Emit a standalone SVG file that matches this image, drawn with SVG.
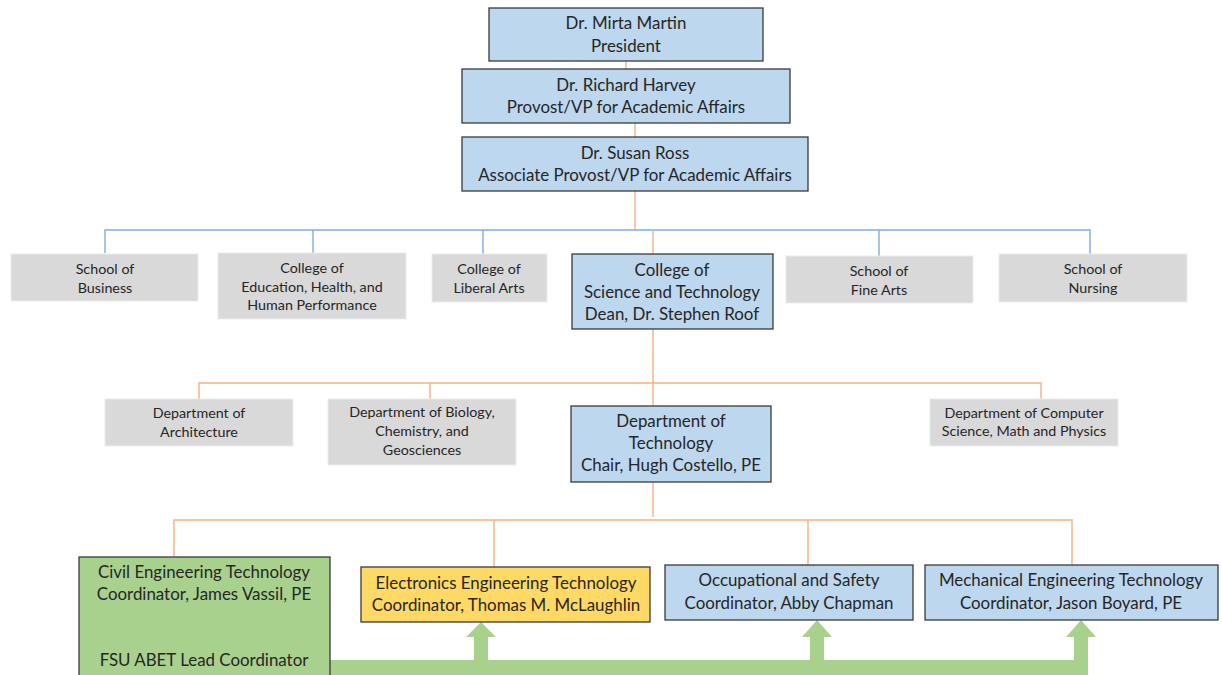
<svg xmlns="http://www.w3.org/2000/svg" width="1222" height="675" viewBox="0 0 1222 675">
<style>
.b{fill:#BDD7EE;stroke:#3a3a3a;stroke-width:1.3}
.g{fill:#D9D9D9;stroke:#ececec;stroke-width:1}
.gr{fill:#A9D18E;stroke:#3a3a3a;stroke-width:1.3}
.y{fill:#FFD966;stroke:#3a3a3a;stroke-width:1.3}
text{font-family:Lato,"Liberation Sans",sans-serif;fill:#262626;text-anchor:middle}
.t16{font-size:16.9px}
.t13{font-size:14.3px}
.o{stroke:#F4B183;stroke-width:1.4;fill:none}
.bl{stroke:#7FAEDC;stroke-width:1.4;fill:none}
</style>
<rect width="1222" height="675" fill="#fff"/>
<g id="connectors">
<path class="o" d="M626 61V69M635 123V137M635 191V231M653 231V254"/>
<path class="bl" d="M105 253V230H1090V254M313 230V253M483 230V254M879 230V256"/>
<path class="o" d="M653 329V517M199 399V383H1041V399M430 383V399"/>
<path class="o" d="M174 557V520H1072V565M494 520V567M808 520V565"/>
<path fill="#A9D18E" d="M330 660H474V637H466L481 622L496 637H488V660H810V637H802L817 620L832 637H824V660H1074V637H1066L1081 620L1096 637H1088V675H330Z"/>
</g>
<g id="president"><rect class="b" x="489" y="8" width="274" height="53"/><text class="t16" x="626" y="29">Dr. Mirta Martin</text><text class="t16" x="626" y="52">President</text></g>
<g id="provost"><rect class="b" x="462" y="69" width="328" height="54"/><text class="t16" x="626" y="91">Dr. Richard Harvey</text><text class="t16" x="626" y="113">Provost/VP for Academic Affairs</text></g>
<g id="assoc"><rect class="b" x="462" y="137" width="346" height="54"/><text class="t16" x="635" y="159">Dr. Susan Ross</text><text class="t16" x="635" y="181">Associate Provost/VP for Academic Affairs</text></g>
<g id="business"><rect class="g" x="11" y="254" width="187" height="47"/><text class="t13" x="105" y="274">School of</text><text class="t13" x="105" y="293">Business</text></g>
<g id="education"><rect class="g" x="218" y="253" width="188" height="66"/><text class="t13" x="312" y="273">College of</text><text class="t13" x="312" y="292">Education, Health, and</text><text class="t13" x="312" y="310">Human Performance</text></g>
<g id="liberal"><rect class="g" x="432" y="254" width="115" height="48"/><text class="t13" x="489" y="274">College of</text><text class="t13" x="489" y="293">Liberal Arts</text></g>
<g id="cst"><rect class="b" x="572" y="254" width="201" height="75"/><text class="t16" x="672" y="276">College of</text><text class="t16" x="672" y="298">Science and Technology</text><text class="t16" x="672" y="320">Dean, Dr. Stephen Roof</text></g>
<g id="finearts"><rect class="g" x="786" y="256" width="187" height="47"/><text class="t13" x="879" y="276">School of</text><text class="t13" x="879" y="295">Fine Arts</text></g>
<g id="nursing"><rect class="g" x="999" y="254" width="188" height="48"/><text class="t13" x="1093" y="274">School of</text><text class="t13" x="1093" y="293">Nursing</text></g>
<g id="architecture"><rect class="g" x="105" y="399" width="188" height="47"/><text class="t13" x="199" y="418">Department of</text><text class="t13" x="199" y="437">Architecture</text></g>
<g id="biology"><rect class="g" x="328" y="399" width="188" height="66"/><text class="t13" x="422" y="417">Department of Biology,</text><text class="t13" x="422" y="436">Chemistry, and</text><text class="t13" x="422" y="455">Geosciences</text></g>
<g id="technology"><rect class="b" x="571" y="406" width="200" height="76"/><text class="t16" x="671" y="427">Department of</text><text class="t16" x="671" y="449">Technology</text><text class="t16" x="671" y="471">Chair, Hugh Costello, PE</text></g>
<g id="cs"><rect class="g" x="930" y="399" width="188" height="47"/><text class="t13" x="1024" y="418">Department of Computer</text><text class="t13" x="1024" y="436">Science, Math and Physics</text></g>
<g id="civil"><rect class="gr" x="79" y="557" width="251" height="125"/><text class="t16" x="204" y="578">Civil Engineering Technology</text><text class="t16" x="204" y="600">Coordinator, James Vassil, PE</text><text class="t16" x="204" y="666">FSU ABET Lead Coordinator</text></g>
<g id="electronics"><rect class="y" x="361" y="567" width="289" height="55"/><text class="t16" x="506" y="589">Electronics Engineering Technology</text><text class="t16" x="506" y="611">Coordinator, Thomas M. McLaughlin</text></g>
<g id="occupational"><rect class="b" x="665" y="565" width="248" height="55"/><text class="t16" x="789" y="586">Occupational and Safety</text><text class="t16" x="789" y="609">Coordinator, Abby Chapman</text></g>
<g id="mechanical"><rect class="b" x="925" y="565" width="293" height="55"/><text class="t16" x="1071" y="586">Mechanical Engineering Technology</text><text class="t16" x="1071" y="609">Coordinator, Jason Boyard, PE</text></g>
</svg>
